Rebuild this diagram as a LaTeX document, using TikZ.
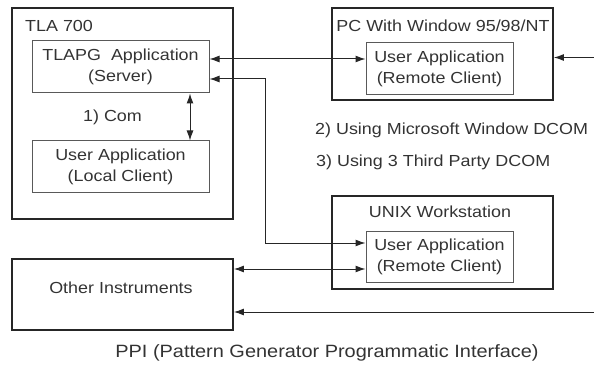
\documentclass[tikz,border=0pt]{standalone}
\usepackage{fontspec}
\setmainfont{Liberation Sans}[FakeStretch=1.12]
\usetikzlibrary{arrows.meta}
\begin{document}
\begin{tikzpicture}[x=1pt,y=-1pt,
  outerbox/.style={draw=black!85,line width=1.8pt,rectangle,inner sep=0pt},
  innerbox/.style={draw=black!65,line width=1pt,rectangle,align=center,
    font=\fontsize{16}{21}\selectfont,text=black!80,inner sep=0pt},
  lbl/.style={font=\fontsize{16}{20}\selectfont,text=black!80,inner sep=0pt},
  tip/.tip={Latex[length=10pt,width=7pt]},
  dblconn/.style={draw=black!85,line width=1pt,tip-tip},
  oneconn/.style={draw=black!85,line width=1pt,-tip}]
\useasboundingbox (0,0) rectangle (594,366);
% outer boxes
\node[outerbox,minimum width=221pt,minimum height=211pt] (tla) at (122.5,113.5) {};
\node[outerbox,minimum width=221pt,minimum height=92pt] (pc) at (442.5,54) {};
\node[outerbox,minimum width=221pt,minimum height=93pt] (unix) at (442.5,242.5) {};
\node[outerbox,minimum width=221pt,minimum height=71pt] (other) at (122.5,294.5) {};
% inner boxes
\node[innerbox,minimum width=177pt,minimum height=52pt] (tlapg) at (120.5,67) {TLAPG\ \ Application\\(Server)};
\node[innerbox,minimum width=177pt,minimum height=52pt] (local) at (120.5,167) {User Application\\(Local Client)};
\node[innerbox,minimum width=147pt,minimum height=52pt] (pcr) at (439.5,69) {User Application\\(Remote Client)};
\node[innerbox,minimum width=147pt,minimum height=51pt] (unixr) at (439.5,256.5) {User Application\\(Remote Client)};
% labels
\node[lbl,anchor=west] (tlalbl) at (25,26) {TLA 700};
\node[lbl] (pclbl) at (443,26) {PC With Window 95/98/NT};
\node[lbl] (unixlbl) at (440,212) {UNIX Workstation};
\node[lbl] (otherlbl) at (121,288) {Other Instruments};
\node[lbl] (comlbl) at (112.5,117.5) {1) Com};
\node[lbl,anchor=west] (dcom2) at (315,130) {2) Using Microsoft Window DCOM};
\node[lbl,anchor=west] (dcom3) at (316,162) {3) Using 3 Third Party DCOM};
\node[lbl,font=\fontsize{17.8}{20}\selectfont] (ppi) at (327,353) {PPI (Pattern Generator Programmatic Interface)};
% free ends and bends
\coordinate (y59) at (300,59);
\coordinate (y79) at (265,79);
\coordinate (bend) at (265,243);
\coordinate (pcin) at (594,57.5);
\coordinate (y269) at (300,269);
\coordinate (otin) at (594,312);
\coordinate (x190) at (190,100);
% connectors
\draw[dblconn] (tlapg.east |- y59) -- (pcr.west |- y59);
\draw[oneconn] (pcin) -- (pc.east |- pcin);
\draw[dblconn] (tlapg.east |- y79) -- (y79) -- (bend) -- (unixr.west |- bend);
\draw[dblconn] (other.east |- y269) -- (unixr.west |- y269);
\draw[oneconn] (otin) -- (other.east |- otin);
\draw[dblconn] (tlapg.south -| x190) -- (local.north -| x190);
\end{tikzpicture}
\end{document}
